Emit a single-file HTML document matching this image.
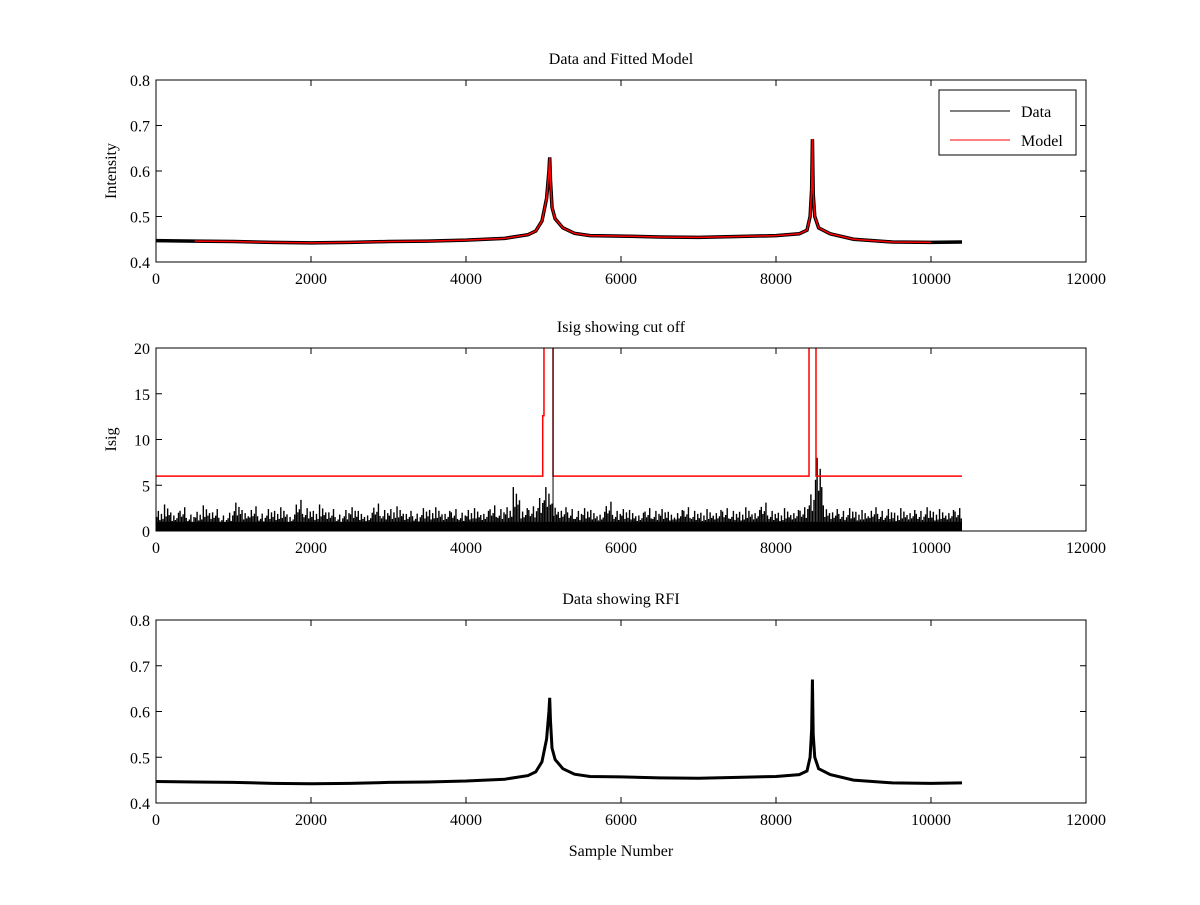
<!DOCTYPE html>
<html><head><meta charset="utf-8"><style>
body{margin:0;background:#fff}
svg text{font-family:"Liberation Serif",serif;font-size:16px;fill:#000}
</style></head><body>
<svg id="fig" width="1200" height="900" xmlns="http://www.w3.org/2000/svg">
<rect width="1200" height="900" fill="#fff"/>
</svg>
<script>
// data arrays
const sampleX=[0,500,1000,1500,2000,2500,3000,3500,4000,4500,4800,4900,4980,5040,5070,5080,5090,5110,5150,5250,5400,5600,6000,6500,7000,7500,8000,8300,8400,8440,8460,8470,8480,8500,8550,8700,9000,9500,10000,10400];
const intensity=[0.447,0.446,0.445,0.443,0.442,0.443,0.445,0.446,0.448,0.452,0.46,0.468,0.49,0.54,0.6,0.63,0.58,0.52,0.495,0.475,0.463,0.458,0.457,0.455,0.454,0.456,0.458,0.462,0.47,0.5,0.56,0.67,0.55,0.5,0.475,0.462,0.45,0.444,0.443,0.444];
const isigEnvelope=[2.2,2.9,2.0,2.6,1.8,2.1,2.8,2.4,1.7,2.0,3.1,2.3,2.7,1.9,2.4,2.2,2.6,1.8,3.4,2.5,2.2,2.9,2.4,1.8,2.3,2.6,2.2,2.0,3.0,2.3,2.4,2.7,2.2,1.9,2.5,2.3,2.6,2.2,2.4,2.0,2.3,2.5,2.2,2.8,2.4,2.6,4.8,2.5,2.7,3.6,4.8,3.0,2.6,2.4,2.2,2.5,2.3,2.1,3.2,2.2,2.4,2.3,2.0,2.5,2.2,2.4,2.1,2.3,2.6,2.2,2.0,2.4,2.3,2.5,2.2,2.1,2.6,2.3,3.1,2.2,2.0,2.5,2.3,2.6,4.0,8.0,2.8,2.4,2.2,2.5,2.1,2.3,2.6,2.2,2.4,2.0,2.5,2.3,2.2,2.6,2.1,2.4,2.3,2.5];
const cutX=[0,4990,4990,5006,5006,5123,5123,8426,8426,8516,8516,10400];
const cutY=[6,6,12.6,12.6,25,25,6,6,25,25,6,6];
const xTicks=[0,2000,4000,6000,8000,10000,12000];
const intTicks=[0.4,0.5,0.6,0.7,0.8];
const isigTicks=[0,5,10,15,20];

const NS="http://www.w3.org/2000/svg";
const svg=document.getElementById('fig');
function el(t,a,p){const e=document.createElementNS(NS,t);for(const k in a)e.setAttribute(k,a[k]);(p||svg).appendChild(e);return e;}
const X0=156,X1=1086;
const sx=v=>X0+(v/12000)*(X1-X0);

function panel(name,top,bot,ymin,ymax,yt,title,ylab,xlab){
  const g=el('g',{});
  
  
  const sy=v=>bot-(v-ymin)/(ymax-ymin)*(bot-top);
  const clipId=name+'-clip';
  const cp=el('clipPath',{id:clipId},g);el('rect',{x:X0,y:top,width:X1-X0,height:bot-top},cp);
  const plot=el('g',{'clip-path':`url(#${clipId})`},g);
  xTicks.forEach(t=>{const x=sx(t);
    el('line',{x1:x,x2:x,y1:bot,y2:bot-6,stroke:'#000'},g);
    el('line',{x1:x,x2:x,y1:top,y2:top+6,stroke:'#000'},g);
    const tx=el('text',{x:x,y:bot+22,'text-anchor':'middle'},g);tx.textContent=t;
    
    });
  yt.forEach(t=>{const y=sy(t);
    el('line',{x1:X0,x2:X0+6,y1:y,y2:y,stroke:'#000'},g);
    el('line',{x1:X1,x2:X1-6,y1:y,y2:y,stroke:'#000'},g);
    const tx=el('text',{x:X0-6,y:y+6,'text-anchor':'end'},g);tx.textContent=t;
    
    });
  el('rect',{x:X0,y:top,width:X1-X0,height:bot-top,fill:'none',stroke:'#000'},g);
  const tt=el('text',{x:(X0+X1)/2,y:top-16,'text-anchor':'middle'},g);tt.textContent=title;
  
  
  if(ylab){const yl=el('text',{x:0,y:0,'text-anchor':'middle',transform:`translate(${X0-40},${(top+bot)/2}) rotate(-90)`},g);yl.textContent=ylab;
  
  }
  if(xlab){const xl=el('text',{x:(X0+X1)/2,y:bot+53,'text-anchor':'middle'},g);xl.textContent=xlab;
    
    }
  return {plot,sy,g};
}
function pts(xs,ys,sy){return xs.map((x,i)=>sx(x)+','+sy(ys[i])).join(' ');}

// panel 1
const p1=panel('data-model-panel',80,262,0.4,0.8,intTicks,'Data and Fitted Model','Intensity');
const d1=el('polyline',{points:pts(sampleX,intensity,p1.sy),fill:'none',stroke:'#000','stroke-width':3.5,'stroke-linejoin':'miter'},p1.plot);


const m1=el('polyline',{points:pts(sampleX.slice(1,-1),intensity.slice(1,-1),p1.sy),fill:'none',stroke:'#f00','stroke-width':1.5},p1.plot);


const lg=el('g',{},p1.g);


el('rect',{x:939,y:90,width:137,height:65,fill:'#fff',stroke:'#000'},lg);
el('line',{x1:950,x2:1010,y1:111,y2:111,stroke:'#000'},lg);
el('line',{x1:950,x2:1010,y1:140,y2:140,stroke:'#f00'},lg);
const l1=el('text',{x:1021,y:117},lg);l1.textContent='Data';


const l2=el('text',{x:1021,y:146},lg);l2.textContent='Model';



// panel 2
const p2=panel('isig-panel',348,531,0,20,isigTicks,'Isig showing cut off','Isig');
const base=el('rect',{x:sx(0),y:p2.sy(1.0),width:sx(10400)-sx(0),height:p2.sy(0)-p2.sy(1.0),fill:'#000'},p2.plot);


isigEnvelope.forEach((v,i)=>{
  const x0=sx(i*100),w=sx(100)-sx(0);
  const fr=[0.7,1,0.55,0.85,0.6];
  for(let k=0;k<5;k++){
    const h=v*fr[(k+i)%5];
    const ln=el('line',{x1:x0+k*w/5+0.8,x2:x0+k*w/5+0.8,y1:p2.sy(0),y2:p2.sy(h),stroke:'#000','stroke-width':1.4},p2.plot);
    
    
  }
});
const cut=el('polyline',{points:pts(cutX,cutY,p2.sy),fill:'none',stroke:'#f00','stroke-width':1.5},p2.plot);


const bl=el('line',{x1:sx(5123),x2:sx(5123),y1:p2.sy(0),y2:p2.sy(25),stroke:'#000'},p2.plot);



// panel 3
const p3=panel('rfi-panel',620,803,0.4,0.8,intTicks,'Data showing RFI','','Sample Number');
const d3=el('polyline',{points:pts(sampleX,intensity,p3.sy),fill:'none',stroke:'#000','stroke-width':3,'stroke-linejoin':'miter'},p3.plot);


</script>
</body></html>
